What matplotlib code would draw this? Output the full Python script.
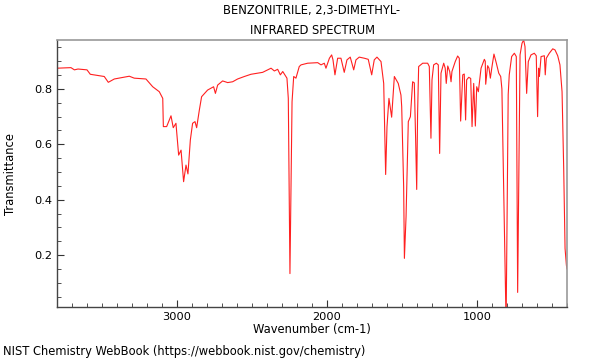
import numpy as np
import matplotlib.pyplot as plt
from matplotlib.ticker import MultipleLocator

# IR spectrum (wavenumber in cm-1, transmittance)
wavenumber = [
    3800, 3707, 3684, 3660, 3600, 3578, 3485, 3458, 3418, 3318, 3285, 3207,
    3162, 3118, 3095, 3091, 3069, 3040, 3025, 3007, 2989, 2973, 2956, 2940,
    2927, 2911, 2896, 2880, 2869, 2851, 2836, 2796, 2756, 2744, 2729, 2696,
    2662, 2629, 2596, 2551, 2507, 2429, 2373, 2351, 2329, 2311, 2295, 2267,
    2258, 2247, 2233, 2222, 2207, 2185, 2173, 2129, 2062, 2040, 2018, 2007,
    1984, 1969, 1960, 1947, 1929, 1907, 1885, 1867, 1845, 1822, 1807, 1785,
    1751, 1725, 1702, 1685, 1667, 1640, 1622, 1609, 1600, 1587, 1569, 1551,
    1525, 1507, 1502, 1489, 1484, 1473, 1458, 1444, 1429, 1418, 1409, 1402,
    1396, 1389, 1362, 1329, 1318, 1307, 1300, 1289, 1271, 1258, 1249, 1240,
    1222, 1212, 1205, 1195, 1182, 1173, 1167, 1145, 1129, 1118, 1109, 1095,
    1085, 1076, 1069, 1055, 1042, 1033, 1022, 1011, 1002, 991, 973, 951,
    945, 942, 929, 920, 911, 900, 887, 871, 855, 842, 834, 806, 792, 785,
    769, 751, 738, 729, 713, 700, 689, 680, 669, 658, 640, 618, 605, 596,
    589, 584, 573, 551, 545, 538, 518, 495, 480, 462, 447, 433, 422, 413,
    404, 400,
]
transmittance = [
    0.875, 0.877, 0.869, 0.872, 0.869, 0.853, 0.845, 0.824, 0.836, 0.846, 0.839, 0.836,
    0.808, 0.790, 0.766, 0.664, 0.664, 0.703, 0.660, 0.676, 0.561, 0.579, 0.465, 0.525,
    0.493, 0.616, 0.676, 0.682, 0.660, 0.724, 0.772, 0.796, 0.808, 0.784, 0.814, 0.829,
    0.823, 0.826, 0.836, 0.845, 0.853, 0.860, 0.875, 0.865, 0.871, 0.851, 0.863, 0.839,
    0.766, 0.133, 0.754, 0.845, 0.839, 0.881, 0.887, 0.893, 0.895, 0.887, 0.893, 0.875,
    0.911, 0.923, 0.905, 0.851, 0.911, 0.911, 0.860, 0.905, 0.915, 0.869, 0.905, 0.915,
    0.911, 0.907, 0.851, 0.905, 0.915, 0.899, 0.820, 0.491, 0.664, 0.766, 0.698, 0.845,
    0.820, 0.778, 0.736, 0.447, 0.188, 0.338, 0.682, 0.700, 0.826, 0.822, 0.616, 0.437,
    0.712, 0.881, 0.893, 0.893, 0.881, 0.622, 0.833, 0.887, 0.893, 0.887, 0.567, 0.857,
    0.893, 0.875, 0.820, 0.883, 0.863, 0.826, 0.863, 0.899, 0.919, 0.911, 0.684, 0.851,
    0.854, 0.688, 0.833, 0.842, 0.838, 0.664, 0.820, 0.666, 0.808, 0.790, 0.875, 0.907,
    0.900, 0.817, 0.884, 0.875, 0.839, 0.881, 0.926, 0.893, 0.857, 0.845, 0.800, -0.05, 0.780, 0.851,
    0.917, 0.929, 0.917, 0.065, 0.923, 0.965, 0.977, 0.953, 0.784, 0.899, 0.923, 0.929, 0.920, 0.700,
    0.875, 0.845, 0.917, 0.920, 0.851, 0.911, 0.929, 0.945, 0.941, 0.920, 0.887, 0.790, 0.513, 0.224,
    0.163, 0.150,
]

title_lines = ["BENZONITRILE, 2,3-DIMETHYL-", "INFRARED SPECTRUM"]
footer = "NIST Chemistry WebBook (https://webbook.nist.gov/chemistry)"

plt.rcParams['font.family'] = 'DejaVu Sans'
fig = plt.figure(figsize=(6, 3.6), dpi=100)
ax = fig.add_axes([0.095, 0.147, 0.85, 0.742])

ax.plot(wavenumber, transmittance, color='#ff2020', linewidth=0.8)

ax.set_xlim(3800, 400)
ax.set_ylim(0.012, 0.977)
ax.xaxis.set_major_locator(MultipleLocator(1000))
ax.xaxis.set_minor_locator(MultipleLocator(100))
ax.yaxis.set_major_locator(MultipleLocator(0.2))
ax.yaxis.set_minor_locator(MultipleLocator(0.05))
ax.tick_params(which='both', direction='in', labelsize=8.2, colors='#333333',
               labelcolor='black')
ax.tick_params(which='major', length=5)
ax.tick_params(which='minor', length=3)
ax.yaxis.set_major_formatter(plt.FuncFormatter(lambda v, p: f"{v:.1f}"))

for side in ['top', 'right']:
    ax.spines[side].set_color('#999999')
    ax.spines[side].set_linewidth(1.2)
for side in ['left', 'bottom']:
    ax.spines[side].set_color('#444444')
    ax.spines[side].set_linewidth(1.0)

ax.set_title("\n".join(title_lines), fontsize=8.3, pad=4, linespacing=1.75)
ax.set_xlabel("Wavenumber (cm-1)", fontsize=8.3, labelpad=1)
ax.set_ylabel("Transmittance", fontsize=8.3, labelpad=12)
fig.text(0.005, 0.005, footer, fontsize=8.3, ha='left', va='bottom')

plt.savefig("out.png", dpi=100)
plt.close()
